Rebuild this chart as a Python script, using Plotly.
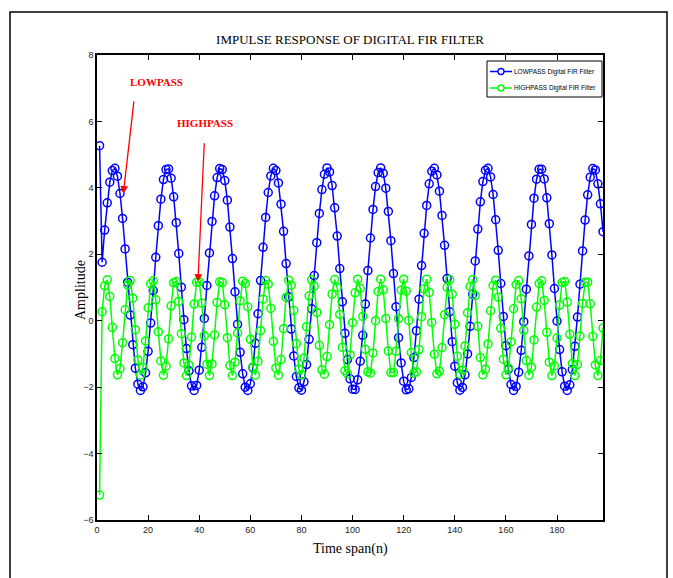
import plotly.graph_objects as go

# sample index n = 1 .. 198
n = list(range(1, 199))

lowpass = [
    5.27, 1.76, 2.73, 3.55, 4.17, 4.52, 4.59, 4.35, 3.83, 3.08,
    2.16, 1.16, 0.17, -0.72, -1.43, -1.91, -2.10, -1.99, -1.57, -0.92,
    -0.07, 0.91, 1.91, 2.86, 3.66, 4.25, 4.55, 4.57, 4.29, 3.73,
    2.95, 2.02, 1.01, 0.03, -0.84, -1.51, -1.96, -2.10, -1.95, -1.49,
    -0.80, 0.07, 1.06, 2.04, 2.99, 3.76, 4.31, 4.58, 4.55, 4.22,
    3.63, 2.82, 1.87, 0.87, -0.11, -0.95, -1.60, -2.00, -2.10, -1.90,
    -1.41, -0.68, 0.21, 1.21, 2.21, 3.11, 3.86, 4.36, 4.59, 4.52,
    4.15, 3.51, 2.69, 1.72, 0.72, -0.25, -1.06, -1.68, -2.02, -2.09,
    -1.84, -1.32, -0.56, 0.36, 1.36, 2.35, 3.23, 3.95, 4.41, 4.60,
    4.48, 4.07, 3.40, 2.55, 1.57, 0.57, -0.38, -1.17, -1.75, -2.06,
    -2.07, -1.78, -1.22, -0.44, 0.50, 1.51, 2.49, 3.35, 4.04, 4.46,
    4.60, 4.44, 3.99, 3.29, 2.41, 1.42, 0.42, -0.51, -1.27, -1.82,
    -2.08, -2.05, -1.71, -1.11, -0.30, 0.65, 1.66, 2.63, 3.47, 4.12,
    4.50, 4.59, 4.39, 3.90, 3.17, 2.27, 1.27, 0.27, -0.63, -1.37,
    -1.87, -2.09, -2.01, -1.63, -1.00, -0.17, 0.80, 1.80, 2.76, 3.58,
    4.19, 4.53, 4.59, 4.33, 3.80, 3.04, 2.12, 1.12, 0.13, -0.75,
    -1.46, -1.92, -2.10, -1.98, -1.55, -0.89, -0.03, 0.95, 1.95, 2.90,
    3.69, 4.26, 4.56, 4.56, 4.27, 3.70, 2.92, 1.98, 0.97, -0.01,
    -0.87, -1.54, -1.97, -2.10, -1.93, -1.47, -0.77, 0.11, 1.10, 2.10,
    3.03, 3.79, 4.32, 4.58, 4.54, 4.12, 3.52, 2.68,
]

highpass = [
    -5.25, 0.27, 1.05, 1.23, 0.73, -0.20, -1.14, -1.63, -1.44, -0.66,
    0.33, 1.08, 1.21, 0.68, -0.27, -1.18, -1.64, -1.41, -0.61, 0.39,
    1.11, 1.20, 0.63, -0.33, -1.21, -1.64, -1.37, -0.55, 0.45, 1.14,
    1.18, 0.58, -0.39, -1.27, -1.65, -1.34, -0.49, 0.50, 1.16, 1.17,
    0.53, -0.45, -1.31, -1.65, -1.30, -0.43, 0.55, 1.17, 1.15, 0.48,
    -0.51, -1.35, -1.65, -1.25, -0.37, 0.60, 1.19, 1.12, 0.42, -0.56,
    -1.39, -1.64, -1.22, -0.30, 0.65, 1.21, 1.10, 0.37, -0.62, -1.42,
    -1.64, -1.17, -0.24, 0.70, 1.22, 1.07, 0.31, -0.69, -1.46, -1.63,
    -1.12, -0.18, 0.75, 1.23, 1.04, 0.25, -0.74, -1.48, -1.61, -1.08,
    -0.12, 0.80, 1.24, 1.00, 0.19, -0.80, -1.51, -1.60, -1.03, -0.06,
    0.84, 1.25, 0.97, 0.13, -0.86, -1.54, -1.58, -0.97, 0.00, 0.88,
    1.25, 0.93, 0.07, -0.91, -1.56, -1.56, -0.92, 0.06, 0.92, 1.25,
    0.89, 0.01, -0.96, -1.58, -1.54, -0.87, 0.12, 0.96, 1.25, 0.85,
    -0.05, -1.01, -1.60, -1.52, -0.81, 0.18, 1.00, 1.24, 0.80, -0.11,
    -1.07, -1.61, -1.49, -0.76, 0.24, 1.03, 1.24, 0.76, -0.17, -1.11,
    -1.63, -1.46, -0.70, 0.30, 1.06, 1.22, 0.71, -0.23, -1.16, -1.63,
    -1.43, -0.64, 0.36, 1.09, 1.21, 0.66, -0.29, -1.20, -1.64, -1.40,
    -0.58, 0.41, 1.12, 1.20, 0.61, -0.35, -1.25, -1.65, -1.36, -0.52,
    0.47, 1.15, 1.18, 0.56, -0.41, -1.29, -1.65, -1.32, -0.46, 0.52,
    1.16, 1.16, 0.51, -0.47, -1.33, -1.65, -1.20, -0.22,
]

x_ticks = [0, 20, 40, 60, 80, 100, 120, 140, 160, 180]
y_ticks = [-6, -4, -2, 0, 2, 4, 6, 8]

serif = "Liberation Serif, Times New Roman, serif"
sans = "Liberation Sans Narrow, Arial Narrow, Liberation Sans, Arial, sans-serif"
blue = "#0000ff"
green = "#00ff00"
red = "#ff0000"

fig = go.Figure()
fig.add_trace(go.Scatter(
    x=n, y=lowpass, mode="lines+markers", name="LOWPASS Digital FIR Filter",
    line=dict(color=blue, width=1.5),
    marker=dict(symbol="circle-open", size=8, color=blue, line=dict(width=1.5)),
))
fig.add_trace(go.Scatter(
    x=n, y=highpass, mode="lines+markers", name="HIGHPASS Digital FIR Filter",
    line=dict(color=green, width=1.5),
    marker=dict(symbol="circle-open", size=8, color=green, line=dict(width=1.5)),
))

axis_common = dict(
    showline=True, linecolor="black", linewidth=1.5, mirror="ticks",
    ticks="inside", ticklen=5, tickwidth=1, tickcolor="black",
    showgrid=False, zeroline=False,
    tickfont=dict(family=sans, size=9, color="#222"),
)

fig.update_layout(
    width=673, height=578,
    margin=dict(l=97, r=70, t=55, b=58),
    paper_bgcolor="white", plot_bgcolor="white",
    title=dict(text="IMPULSE RESPONSE OF DIGITAL FIR FILTER",
               x=(350 / 673), xanchor="center", y=1 - 39 / 578, yanchor="middle",
               font=dict(family=serif, size=13, color="black")),
    xaxis=dict(range=[0, 198], tickvals=x_ticks, **axis_common),
    yaxis=dict(range=[-6, 8], tickvals=y_ticks, **axis_common),
    showlegend=False,
)


# pixel -> paper coordinates for the 506 x 465 plotting area
def px(xp):
    return (xp - 97) / 506


def py(yp):
    return (520 - yp) / 465


# axis titles
fig.add_annotation(xref="paper", yref="paper", x=px(350), y=py(549),
                   xanchor="center", yanchor="middle",
                   text="Time span(n)", showarrow=False,
                   font=dict(family=serif, size=14, color="black"))
fig.add_annotation(xref="paper", yref="paper", x=px(80), y=py(290),
                   xanchor="center", yanchor="middle",
                   text="Amplitude", showarrow=False, textangle=-90,
                   font=dict(family=serif, size=14, color="black"))

# outer frame around the figure
fig.add_shape(type="rect", xref="paper", yref="paper",
              x0=px(10), x1=px(667), y0=py(600), y1=py(12),
              line=dict(color="black", width=1.5), fillcolor="rgba(0,0,0,0)")

# legend box in the upper-right corner of the axes
fig.add_shape(type="rect", xref="paper", yref="paper",
              x0=px(487), x1=px(602), y0=py(97), y1=py(61),
              line=dict(color="black", width=1), fillcolor="white")
for trace, row_y in zip(fig.data, [71.5, 88.0]):
    col = trace.line.color
    fig.add_shape(type="line", xref="paper", yref="paper",
                  x0=px(490), x1=px(512), y0=py(row_y), y1=py(row_y),
                  line=dict(color=col, width=1.5))
    fig.add_shape(type="circle", xref="paper", yref="paper",
                  x0=px(498), x1=px(504), y0=py(row_y + 3), y1=py(row_y - 3),
                  line=dict(color=col, width=1.3), fillcolor="white")
    fig.add_annotation(xref="paper", yref="paper", x=px(512), y=py(row_y),
                       xanchor="left", yanchor="middle", text=trace.name,
                       showarrow=False,
                       font=dict(family=sans, size=6.5, color="black"))

# red call-outs pointing at the two responses
fig.add_annotation(x=23.1, y=7.19, text="<b>LOWPASS</b>", showarrow=False,
                   font=dict(family=serif, size=11, color=red))
fig.add_annotation(x=10.3, y=3.82, ax=14.5, ay=6.65, axref="x", ayref="y",
                   text="", showarrow=True, arrowhead=2, arrowsize=1.2,
                   arrowwidth=1.3, arrowcolor=red)
fig.add_annotation(x=42.3, y=5.95, text="<b>HIGHPASS</b>", showarrow=False,
                   font=dict(family=serif, size=11, color=red))
fig.add_annotation(x=39.5, y=1.17, ax=42.0, ay=5.39, axref="x", ayref="y",
                   text="", showarrow=True, arrowhead=2, arrowsize=1.2,
                   arrowwidth=1.3, arrowcolor=red)

fig.write_html("out.html")
